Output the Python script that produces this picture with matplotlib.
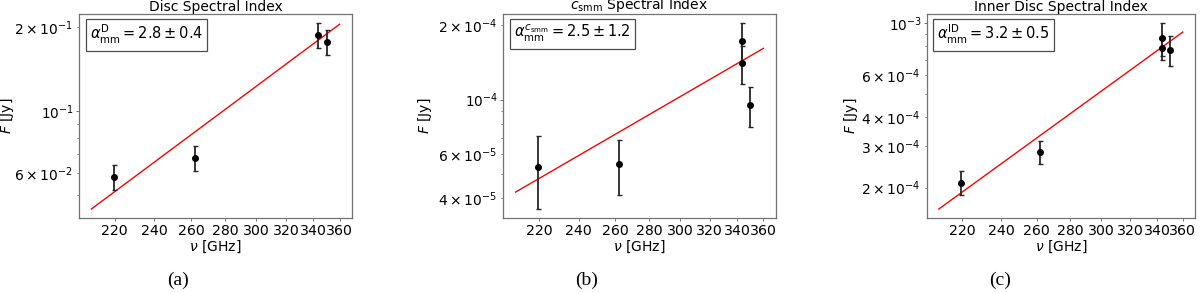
import matplotlib

matplotlib.use("Agg")
import matplotlib.pyplot as plt
from matplotlib.ticker import NullLocator

# observed frequencies [GHz]
nu_obs = [219.5, 262.0, 343.5, 343.5, 350.0]

# panel (a): whole disc (only one point at 343.5 GHz)
flux_disc = [0.0579, 0.0680, 0.1872, None, 0.1766]
err_disc = [0.0059, 0.0069, 0.0190, None, 0.0180]
fit_disc_nu = [209.0, 360.0]
fit_disc_flux = [0.0445, 0.2046]

# panel (b): c_smm
flux_csmm = [5.35e-5, 5.50e-5, 1.722e-4, 1.399e-4, 9.48e-5]
err_csmm = [1.74e-5, 1.38e-5, 3.1e-5, 2.4e-5, 1.75e-5]
fit_csmm_nu = [209.0, 360.0]
fit_csmm_flux = [4.227e-5, 1.609e-4]

# panel (c): inner disc
flux_inner = [2.10e-4, 2.84e-4, 8.63e-4, 7.86e-4, 7.71e-4]
err_inner = [2.5e-5, 3.3e-5, 1.37e-4, 0.89e-4, 1.1e-4]
fit_inner_nu = [209.0, 360.0]
fit_inner_flux = [1.62e-4, 9.18e-4]

titles = ["Disc Spectral Index", r"$c_{\rm smm}$ Spectral Index", "Inner Disc Spectral Index"]
labels = [
    r"$\alpha_{\rm mm}^{\rm D} = 2.8 \pm 0.4$",
    r"$\alpha_{\rm mm}^{c_{\rm smm}} = 2.5 \pm 1.2$",
    r"$\alpha_{\rm mm}^{\rm ID} = 3.2 \pm 0.5$",
]
captions = ["(a)", "(b)", "(c)"]
xticks = [220, 240, 260, 280, 300, 320, 340, 360]


def clean(xs, ys, es):
    keep = [i for i, y in enumerate(ys) if y is not None]
    return [xs[i] for i in keep], [ys[i] for i in keep], [es[i] for i in keep]


panels = [
    (clean(nu_obs, flux_disc, err_disc), fit_disc_nu, fit_disc_flux),
    (clean(nu_obs, flux_csmm, err_csmm), fit_csmm_nu, fit_csmm_flux),
    (clean(nu_obs, flux_inner, err_inner), fit_inner_nu, fit_inner_flux),
]

fig = plt.figure(figsize=(12, 2.93), dpi=100)
lefts = [0.0658, 0.4194, 0.7722]
widths = [0.2275, 0.2270, 0.2236]
ylabel_x = [-0.232, -0.255, -0.25]
caption_x = [0.148, 0.489, 0.833]

for i, ((nu, flux, err), fit_nu, fit_flux) in enumerate(panels):
    ax = fig.add_axes([lefts[i], 0.255, widths[i], 0.697])
    ax.plot(fit_nu, fit_flux, color="red", lw=1.0)
    ax.errorbar(nu, flux, yerr=err, fmt="o", color="black", ms=4,
                elinewidth=1.3, capsize=1.8, capthick=1.0, ecolor="0.15")
    ax.set_xscale("log")
    ax.set_yscale("log")
    ax.set_xticks(xticks)
    ax.set_xticklabels([str(t) for t in xticks])
    ax.xaxis.set_minor_locator(NullLocator())
    ax.tick_params(axis="x", labelsize=10.2)
    ax.tick_params(axis="y", labelsize=9.8)
    ax.tick_params(length=2, width=0.6, color="0.35", pad=1.8)
    ax.tick_params(which="minor", length=1.2, width=0.5, color="0.35")
    for sp in ax.spines.values():
        sp.set_color("0.45")
        sp.set_linewidth(0.9)
    ax.set_xlabel(r"$\nu$ [GHz]", fontsize=10, labelpad=1)
    ax.set_ylabel(r"$F$ [Jy]", fontsize=10)
    ax.yaxis.set_label_coords(ylabel_x[i], 0.5)
    ax.set_title(titles[i], fontsize=10, pad=2.5)
    ax.text(0.04, 0.955, labels[i], transform=ax.transAxes, fontsize=10.5,
            ha="left", va="top",
            bbox=dict(boxstyle="square,pad=0.3", fc="white", ec="0.3", lw=0.9))
    fig.text(caption_x[i], 0.015, captions[i], family="Liberation Serif",
             fontsize=14, ha="center", va="bottom")

fig.savefig("out.png", dpi=100)
plt.close(fig)
